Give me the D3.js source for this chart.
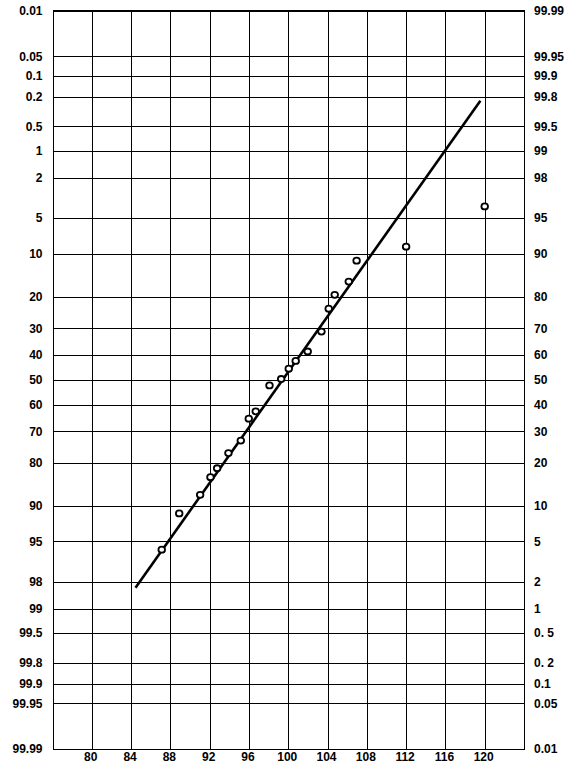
<!DOCTYPE html>
<html>
<head>
<meta charset="utf-8">
<script src="https://cdn.jsdelivr.net/npm/d3@7"></script>
<style>
  html, body { margin: 0; padding: 0; background: #fff; }
  svg { display: block; }
  text { font-family: "Liberation Sans", Arial, sans-serif; font-weight: bold; font-size: 12px; fill: #000; }
</style>
</head>
<body>
<svg id="chart" width="586" height="772"></svg>
<script>
// ---- data ----
const xTicks = [80, 84, 88, 92, 96, 100, 104, 108, 112, 116, 120];
// cumulative percent positions of the horizontal grid lines (bottom -> top)
const probTicks = [0.01, 0.05, 0.1, 0.2, 0.5, 1, 2, 5, 10, 20, 30, 40, 50, 60, 70, 80, 90, 95, 98, 99, 99.5, 99.8, 99.9, 99.95, 99.99];
// left axis labels: exceedance percent (same order as probTicks)
const leftLabels = ["99.99", "99.95", "99.9", "99.8", "99.5", "99", "98", "95", "90", "80", "70", "60", "50", "40", "30", "20", "10", "5", "2", "1", "0.5", "0.2", "0.1", "0.05", "0.01"];
// right axis labels: cumulative percent (same order as probTicks)
const rightLabels = ["0.01", "0.05", "0.1", "0. 2", "0. 5", "1", "2", "5", "10", "20", "30", "40", "50", "60", "70", "80", "90", "95", "98", "99", "99.5", "99.8", "99.9", "99.95", "99.99"];
// observed points
const pointX = [87.12, 88.90, 91.03, 92.08, 92.76, 93.91, 95.17, 95.98, 96.69, 98.09, 99.28, 100.05, 100.76, 101.98, 103.38, 104.12, 104.73, 106.16, 106.96, 112.0, 120.0];
const pointP = [4.2, 8.7, 12.1, 16.1, 18.4, 22.8, 26.8, 34.6, 37.4, 47.7, 50.3, 54.5, 57.6, 61.3, 68.8, 76.5, 80.6, 84.1, 88.7, 91.2, 96.1];
// fitted normal line
const fitMean = 99.44;
const fitSd = 7.09;
const fitRange = [84.45, 119.56];

// ---- inverse normal (Acklam) ----
function probit(p) {
  const a = [-3.969683028665376e+01, 2.209460984245205e+02, -2.759285104469687e+02, 1.383577518672690e+02, -3.066479806614716e+01, 2.506628277459239e+00];
  const b = [-5.447609879822406e+01, 1.615858368580409e+02, -1.556989798598866e+02, 6.680131188771972e+01, -1.328068155288572e+01];
  const c = [-7.784894002430293e-03, -3.223964580411365e-01, -2.400758277161838e+00, -2.549732539343734e+00, 4.374664141464968e+00, 2.938163982698783e+00];
  const d = [7.784695709041462e-03, 3.224671290700398e-01, 2.445134137142996e+00, 3.754408661907416e+00];
  const pl = 0.02425, ph = 1 - pl;
  let q, r;
  if (p < pl) {
    q = Math.sqrt(-2 * Math.log(p));
    return (((((c[0]*q+c[1])*q+c[2])*q+c[3])*q+c[4])*q+c[5]) / ((((d[0]*q+d[1])*q+d[2])*q+d[3])*q+1);
  } else if (p <= ph) {
    q = p - 0.5; r = q * q;
    return (((((a[0]*r+a[1])*r+a[2])*r+a[3])*r+a[4])*r+a[5])*q / (((((b[0]*r+b[1])*r+b[2])*r+b[3])*r+b[4])*r+1);
  } else {
    q = Math.sqrt(-2 * Math.log(1 - p));
    return -(((((c[0]*q+c[1])*q+c[2])*q+c[3])*q+c[4])*q+c[5]) / ((((d[0]*q+d[1])*q+d[2])*q+d[3])*q+1);
  }
}

// ---- layout ----
const mLeft = 52.5, mRight = 524, mTop = 11, mBottom = 748.5;
const zEdge = 3.75;
const svg = d3.select("#chart");

const x = d3.scaleLinear().domain([76, 124]).range([mLeft, mRight]);
const y = d3.scaleLinear().domain([-zEdge, zEdge]).range([mBottom, mTop]);
const zOf = p => {
  const z = probit(p / 100);
  return Math.abs(z) > 3.7 ? Math.sign(z) * zEdge : z;
};

const grid = svg.append("g").attr("shape-rendering", "crispEdges").attr("stroke", "#000").attr("stroke-width", 1);

// horizontal grid lines
grid.selectAll("line.h").data(probTicks).enter().append("line")
  .attr("x1", mLeft).attr("x2", mRight)
  .attr("y1", d => Math.round(y(zOf(d))) + 0.5)
  .attr("y2", d => Math.round(y(zOf(d))) + 0.5);

// vertical grid lines
grid.selectAll("line.v").data(xTicks).enter().append("line")
  .attr("x1", d => Math.round(x(d)) + 0.5).attr("x2", d => Math.round(x(d)) + 0.5)
  .attr("y1", mTop).attr("y2", mBottom);

// frame
grid.append("rect")
  .attr("x", Math.round(mLeft) + 0.5).attr("y", Math.round(mTop) - 0.5)
  .attr("width", Math.round(mRight) - Math.round(mLeft))
  .attr("height", Math.round(mBottom) - Math.round(mTop) + 1)
  .attr("fill", "none");

// left labels
svg.append("g").selectAll("text").data(probTicks).enter().append("text")
  .attr("x", mLeft - 10)
  .attr("y", d => y(zOf(d)))
  .attr("dy", "0.36em")
  .attr("text-anchor", "end")
  .text((d, i) => leftLabels[i]);

// right labels
svg.append("g").selectAll("text").data(probTicks).enter().append("text")
  .attr("x", mRight + 10)
  .attr("y", d => y(zOf(d)))
  .attr("dy", "0.36em")
  .attr("text-anchor", "start")
  .text((d, i) => rightLabels[i]);

// bottom labels
svg.append("g").selectAll("text").data(xTicks).enter().append("text")
  .attr("x", d => x(d) - 1)
  .attr("y", mBottom + 12)
  .attr("text-anchor", "middle")
  .text(d => d);

// fitted line
const lineData = fitRange.map(v => ({ x: v, z: (v - fitMean) / fitSd }));
svg.append("path")
  .datum(lineData)
  .attr("fill", "none")
  .attr("stroke", "#000")
  .attr("stroke-width", 2.6)
  .attr("d", d3.line().x(d => x(d.x)).y(d => y(d.z)));

// points
svg.append("g").selectAll("ellipse").data(pointX).enter().append("ellipse")
  .attr("cx", d => x(d))
  .attr("cy", (d, i) => y(probit(pointP[i] / 100)))
  .attr("rx", 3.3)
  .attr("ry", 3)
  .attr("fill", "#fff")
  .attr("stroke", "#000")
  .attr("stroke-width", 1.8);
</script>
</body>
</html>
